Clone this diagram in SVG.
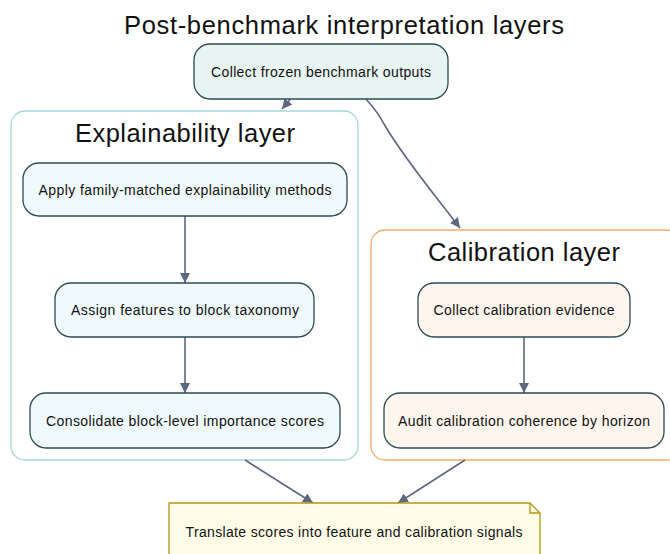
<svg xmlns="http://www.w3.org/2000/svg" width="670" height="554" viewBox="0 0 670 554">
<defs>
<style>
text{font-family:"Liberation Sans",Arial,sans-serif;fill:#111;text-anchor:middle}
.t{font-size:14px}
.h{font-size:25.5px}
.node{stroke:#2e4a55;stroke-width:1.3}
.ex{fill:#f0f9fb}
.ca{fill:#fdf5ee}
.edge{fill:none;stroke:#5d677d;stroke-width:1.6}
</style>
<marker id="ah" viewBox="0 0 10 10" refX="10" refY="5" markerWidth="10" markerHeight="10" markerUnits="userSpaceOnUse" orient="auto">
<path d="M0,0 L10,5 L0,10 z" fill="#5d677d"/>
</marker>
</defs>
<rect width="670" height="554" fill="#ffffff"/>
<text class="h" x="344" y="34" textLength="440" lengthAdjust="spacing">Post-benchmark interpretation layers</text>
<g id="cluster_explain">
<rect x="11" y="111" width="347" height="349" rx="14" fill="none" stroke="#a6d6dd" stroke-width="1.3"/>
<text class="h" x="185" y="142" textLength="220" lengthAdjust="spacing">Explainability layer</text>
</g>
<g id="cluster_calib">
<rect x="371" y="230" width="310" height="230" rx="14" fill="none" stroke="#f4aa6c" stroke-width="1.3"/>
<text class="h" x="524" y="261" textLength="192" lengthAdjust="spacing">Calibration layer</text>
</g>
<g id="connectors">
<path class="edge" d="M292,97 L282,109" marker-end="url(#ah)"/>
<path class="edge" d="M366,99 C372,106 378,112 384,124 C405,160 435,195 460,228" marker-end="url(#ah)"/>
<path class="edge" d="M185,216 L185,283" marker-end="url(#ah)"/>
<path class="edge" d="M185,337 L185,393" marker-end="url(#ah)"/>
<path class="edge" d="M524,337 L524,393" marker-end="url(#ah)"/>
<path class="edge" d="M245,460 L313,503" marker-end="url(#ah)"/>
<path class="edge" d="M465,460 L398,503" marker-end="url(#ah)"/>
</g>
<g id="collect">
<rect class="node" x="194" y="44" width="254" height="55" rx="16" fill="#e8f4f1"/>
<text class="t" x="321" y="77" textLength="220" lengthAdjust="spacing">Collect frozen benchmark outputs</text>
</g>
<g id="apply">
<rect class="node ex" x="23" y="163" width="324" height="53" rx="16"/>
<text class="t" x="185" y="195" textLength="293" lengthAdjust="spacing">Apply family-matched explainability methods</text>
</g>
<g id="assign">
<rect class="node ex" x="55" y="283" width="259" height="54" rx="16"/>
<text class="t" x="185" y="315" textLength="228" lengthAdjust="spacing">Assign features to block taxonomy</text>
</g>
<g id="consolidate">
<rect class="node ex" x="30" y="393" width="310" height="55" rx="16"/>
<text class="t" x="185" y="426" textLength="278" lengthAdjust="spacing">Consolidate block-level importance scores</text>
</g>
<g id="calib_evidence">
<rect class="node ca" x="418" y="283" width="212" height="54" rx="16"/>
<text class="t" x="524" y="315" textLength="181" lengthAdjust="spacing">Collect calibration evidence</text>
</g>
<g id="audit">
<rect class="node ca" x="384" y="393" width="280" height="55" rx="16"/>
<text class="t" x="524" y="426" textLength="252" lengthAdjust="spacing">Audit calibration coherence by horizon</text>
</g>
<g id="translate">
<path d="M169,503 L530,503 L540,513 L540,560 L169,560 Z" fill="#fffde8" stroke="#b8960e" stroke-width="1.3"/>
<path d="M530,503 L530,513 L540,513" fill="none" stroke="#b8960e" stroke-width="1.3"/>
<text class="t" x="354" y="537" textLength="337" lengthAdjust="spacing">Translate scores into feature and calibration signals</text>
</g>
</svg>
